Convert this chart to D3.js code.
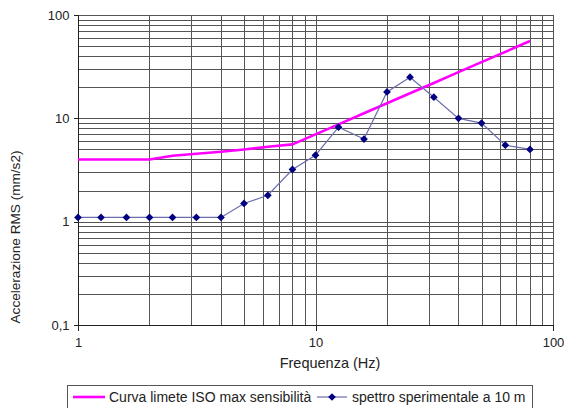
<!DOCTYPE html>
<html>
<head>
<meta charset="utf-8">
<script src="https://cdn.jsdelivr.net/npm/d3@7"></script>
<style>
  html, body { margin: 0; padding: 0; background: #fff; }
  svg { display: block; font-family: "Liberation Sans", Arial, sans-serif; }
</style>
</head>
<body>
<svg id="chart" width="564" height="408"></svg>
<script>
// ---- data ----
const freqs = [1, 1.25, 1.6, 2, 2.5, 3.15, 4, 5, 6.3, 8, 10, 12.5, 16, 20, 25, 31.5, 40, 50, 63, 80];
const isoCurve = [4, 4, 4, 4, 4.35, 4.55, 4.75, 5.0, 5.3, 5.6, 7, 8.75, 11.2, 14, 17.5, 22, 28, 35, 44, 56];
const spectrum = [1.1, 1.1, 1.1, 1.1, 1.1, 1.1, 1.1, 1.5, 1.8, 3.2, 4.4, 8.2, 6.3, 18, 25, 16, 10, 9, 5.5, 5.0];
const xTicks = [1, 10, 100];
const yTicks = [0.1, 1, 10, 100];
const seriesNames = ["Curva limete ISO max sensibilità", "spettro sperimentale a 10 m"];
const xTitle = "Frequenza (Hz)";
const yTitle = "Accelerazione RMS (mm/s2)";

// ---- layout ----
const svg = d3.select("#chart");
const L = 78, R = 553, T = 15, B = 325;
const x = d3.scaleLog().domain([1, 100]).range([L, R]);
const y = d3.scaleLog().domain([0.1, 100]).range([B, T]);
const crisp = v => Math.round(v) + 0.5;

// grid values: 1..9 per decade
const gridX = [];
for (let d = 1; d < 100; d *= 10) for (let k = 1; k <= 9; k++) gridX.push(k * d);
gridX.push(100);
const gridY = [];
for (let d = 0.1; d < 99; d *= 10) for (let k = 1; k <= 9; k++) gridY.push(+(k * d).toPrecision(3));
gridY.push(100);

const grid = svg.append("g").attr("stroke", "#555").attr("stroke-width", 1).attr("shape-rendering", "crispEdges");
grid.selectAll("line.gx").data(gridX).join("line")
  .attr("x1", d => crisp(x(d))).attr("x2", d => crisp(x(d)))
  .attr("y1", T).attr("y2", B);
grid.selectAll("line.gy").data(gridY).join("line")
  .attr("y1", d => crisp(y(d))).attr("y2", d => crisp(y(d)))
  .attr("x1", L).attr("x2", R);

// axes
const fmt = d => String(d).replace(".", ",");
const yAxis = svg.append("g").attr("transform", `translate(${crisp(L)},0)`)
  .call(d3.axisLeft(y).tickValues(yTicks).tickFormat(fmt).tickSize(5).tickPadding(4));
const xAxis = svg.append("g").attr("transform", `translate(0,${crisp(B)})`)
  .call(d3.axisBottom(x).tickValues(xTicks).tickFormat(fmt).tickSize(5).tickPadding(7));
[xAxis, yAxis].forEach(a => {
  a.selectAll("path, line").attr("stroke", "#222").attr("shape-rendering", "crispEdges");
  a.selectAll("text").attr("font-size", 13).attr("fill", "#222")
    .attr("font-family", "'Liberation Sans', Arial, sans-serif");
});
yAxis.select(".domain").attr("d", `M-5,${crisp(T)}H0V${crisp(B)}`);
xAxis.select(".domain").attr("d", `M${crisp(L) - 0.5},0H${crisp(R)}`);

// ISO curve
const isoLine = d3.line().x((d, i) => x(freqs[i])).y(d => y(d));
svg.append("path").datum(isoCurve)
  .attr("d", isoLine).attr("fill", "none")
  .attr("stroke", "#ff00ff").attr("stroke-width", 2.6).attr("stroke-linejoin", "round");

// spectrum
svg.append("path").datum(spectrum)
  .attr("d", isoLine).attr("fill", "none")
  .attr("stroke", "#6b6dab").attr("stroke-width", 1.2);
const diamond = d3.symbol().type(d3.symbolSquare).size(30);
svg.selectAll("path.mk").data(spectrum).join("path")
  .attr("class", "mk")
  .attr("d", diamond)
  .attr("transform", (d, i) => `translate(${x(freqs[i])},${y(d)}) rotate(45)`)
  .attr("fill", "#000080");

// titles
svg.append("text").attr("x", 330).attr("y", 368).attr("text-anchor", "middle")
  .attr("font-size", 14.5).attr("fill", "#222").text(xTitle);
svg.append("text").attr("transform", "translate(20,237) rotate(-90)")
  .attr("text-anchor", "middle").attr("font-size", 13.6).attr("fill", "#222").text(yTitle);

// legend
const lg = svg.append("g");
lg.append("rect").attr("x", 67.5).attr("y", 385.5).attr("width", 465).attr("height", 30)
  .attr("fill", "#fff").attr("stroke", "#555");
lg.append("line").attr("x1", 73).attr("x2", 105).attr("y1", 397).attr("y2", 397)
  .attr("stroke", "#ff00ff").attr("stroke-width", 2.6);
lg.append("text").attr("x", 109).attr("y", 402).attr("font-size", 14).attr("fill", "#222").text(seriesNames[0]);
lg.append("line").attr("x1", 317).attr("x2", 347).attr("y1", 397).attr("y2", 397)
  .attr("stroke", "#6b6dab").attr("stroke-width", 1.2);
lg.append("path").attr("d", diamond).attr("transform", "translate(332,397) rotate(45)").attr("fill", "#000080");
lg.append("text").attr("x", 352).attr("y", 402).attr("font-size", 14).attr("fill", "#222").text(seriesNames[1]);
</script>
</body>
</html>
